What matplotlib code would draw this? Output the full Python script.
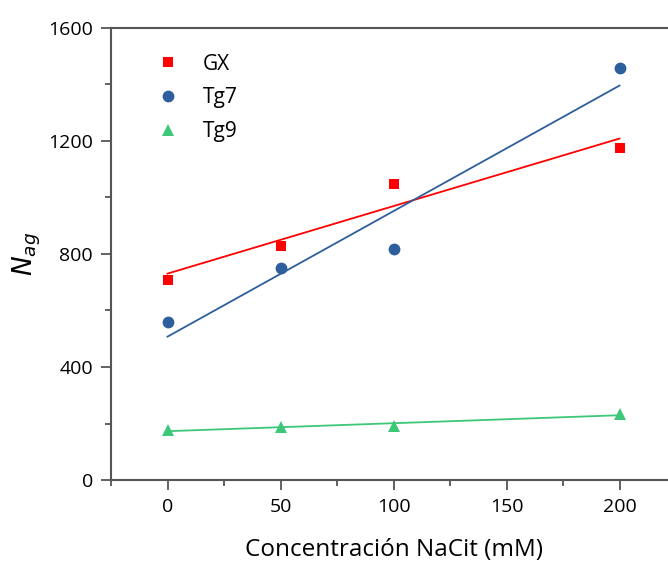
import numpy as np
import matplotlib.pyplot as plt
from matplotlib.ticker import MultipleLocator

# aggregation number vs sodium citrate concentration
conc = np.array([0, 50, 100, 200])
gx = np.array([708, 828, 1048, 1175])
tg7 = np.array([559, 750, 818, 1458])
tg9 = np.array([177, 188, 191, 234])

plt.rcParams['font.family'] = ['Open Sans', 'DejaVu Sans']

fig = plt.figure(figsize=(6.68, 5.62), dpi=100)
ax = fig.add_axes([0.1662, 0.1459, 0.8458, 0.8043])

series = [(gx, 's', '#ff0000', 'GX', 7.5),
          (tg7, 'o', '#2d5f9c', 'Tg7', 8.5),
          (tg9, '^', '#3cc878', 'Tg9', 9)]

# scatter points plus least-squares line over 0-200 mM
xfit = np.array([0, 200])
for y, m, c, lab, ms in series:
    ax.plot(conc, y, m, color=c, ms=ms, mew=0, label=lab)
    k, b = np.polyfit(conc, y, 1)
    ax.plot(xfit, k * xfit + b, '-', color=c, lw=1.3)

ax.set_xlim(-25, 225)
ax.set_ylim(0, 1600)
ax.set_xticks([0, 50, 100, 150, 200])
ax.set_yticks([0, 400, 800, 1200, 1600])
ax.xaxis.set_minor_locator(MultipleLocator(25))
ax.yaxis.set_minor_locator(MultipleLocator(200))
ax.tick_params(which='major', length=7, width=1.3, color='#555555', labelsize=14, pad=6)
ax.tick_params(which='minor', length=4, width=1.3, color='#555555')
for s in ax.spines.values():
    s.set_color('#555555')
    s.set_linewidth(1.5)

ax.set_xlabel('Concentración NaCit (mM)', fontsize=17.5, labelpad=16)
ax.set_ylabel(r'$N_{ag}$', fontsize=19, labelpad=4)

ax.legend(loc='upper left', frameon=False, fontsize=15, handletextpad=0.7,
          borderaxespad=0.5, bbox_to_anchor=(0.03, 0.985), labelspacing=0.62)

fig.savefig('out.png', dpi=100)
